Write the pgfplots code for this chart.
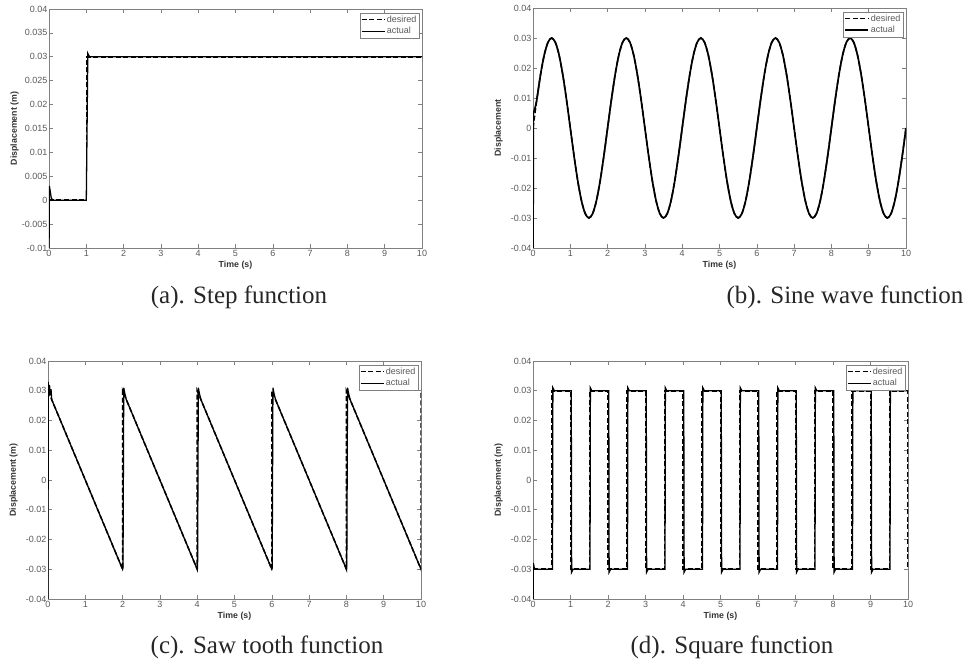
\documentclass[border=0pt]{standalone}
\usepackage{fontspec}
\setmainfont{Liberation Sans}
\newfontfamily\capfont{Liberation Serif}
\usepackage{pgfplots}
\pgfplotsset{compat=1.18}

\newcommand{\tfont}{\fontsize{9}{10}\selectfont}
\newcommand{\lfont}{\fontsize{8.8}{9}\selectfont\bfseries}

\pgfplotsset{
  mat/.style={
    scale only axis, width=373pt, height=239pt,
    xmin=0, xmax=10, ymin=-0.04, ymax=0.04,
    axis line style={black!50, line width=0.8pt},
    tick style={black!50, line width=0.6pt},
    tick align=inside, major tick length=4pt,
    xtick={0,1,2,3,4,5,6,7,8,9,10},
    xticklabels={0,1,2,3,4,5,6,7,8,9,10},
    ytick={-0.04,-0.03,-0.02,-0.01,0,0.01,0.02,0.03,0.04},
    yticklabels={-0.04,-0.03,-0.02,-0.01,0,0.01,0.02,0.03,0.04},
    ticklabel style={font=\tfont, text=black!65},
    xticklabel style={inner sep=2.5pt},
    yticklabel style={inner sep=1.5pt},
    scaled ticks=false,
    xlabel={Time (s)},
    xlabel style={font=\lfont, text=black!80, at={(axis description cs:0.5,-0.071)}, anchor=center},
    ylabel style={font=\lfont, text=black!80, at={(axis description cs:-0.092,0.5)}, anchor=center},
    legend style={at={(rel axis cs:1,1)}, anchor=north east, xshift=-3pt, yshift=-4pt,
      draw=black!50, font=\tfont, text=black!65, inner sep=1pt, row sep=0.5pt,
      nodes={inner sep=1.5pt}},
    legend cell align=left,
    legend image code/.code={\draw[#1] (0pt,0pt) -- (23pt,0pt);},
  },
  des/.style={black, line width=1.5pt, dash pattern=on 5pt off 2.5pt},
  act/.style={black, line width=1.3pt},
}

\begin{document}
\begin{tikzpicture}
\path[use as bounding box] (0,0) rectangle (978pt,-661pt);

% (a) step
\begin{axis}[mat, at={(49pt,-9pt)}, anchor=north west,
  ymin=-0.01, ymax=0.04,
  ytick={-0.01,-0.005,0,0.005,0.01,0.015,0.02,0.025,0.03,0.035,0.04},
  yticklabels={-0.01,-0.005,0,0.005,0.01,0.015,0.02,0.025,0.03,0.035,0.04},
  ylabel={Displacement (m)}]
\addplot[des] coordinates {(0,0) (1,0) (1,0.03) (10,0.03)};
\addplot[act] coordinates {(0,-0.012) (0.01,0.003) (0.03,0.002) (0.06,0.0005) (0.1,0) (1.0,0) (1.02,0.015) (1.04,0.0307) (1.07,0.0302) (1.1,0.03) (10,0.03)};
\legend{desired,actual}
\end{axis}

% (b) sine
\begin{axis}[mat, at={(533pt,-8pt)}, anchor=north west, height=240pt,
  ylabel={Displacement}]
\addplot[des, smooth] coordinates {
(0.0,0) (0.1,0.00927) (0.2,0.01763) (0.3,0.02427) (0.4,0.02853) (0.5,0.03) (0.6,0.02853) (0.7,0.02427) (0.8,0.01763) (0.9,0.00927)
(1.0,0) (1.1,-0.00927) (1.2,-0.01763) (1.3,-0.02427) (1.4,-0.02853) (1.5,-0.03) (1.6,-0.02853) (1.7,-0.02427) (1.8,-0.01763) (1.9,-0.00927)
(2.0,0) (2.1,0.00927) (2.2,0.01763) (2.3,0.02427) (2.4,0.02853) (2.5,0.03) (2.6,0.02853) (2.7,0.02427) (2.8,0.01763) (2.9,0.00927)
(3.0,0) (3.1,-0.00927) (3.2,-0.01763) (3.3,-0.02427) (3.4,-0.02853) (3.5,-0.03) (3.6,-0.02853) (3.7,-0.02427) (3.8,-0.01763) (3.9,-0.00927)
(4.0,0) (4.1,0.00927) (4.2,0.01763) (4.3,0.02427) (4.4,0.02853) (4.5,0.03) (4.6,0.02853) (4.7,0.02427) (4.8,0.01763) (4.9,0.00927)
(5.0,0) (5.1,-0.00927) (5.2,-0.01763) (5.3,-0.02427) (5.4,-0.02853) (5.5,-0.03) (5.6,-0.02853) (5.7,-0.02427) (5.8,-0.01763) (5.9,-0.00927)
(6.0,0) (6.1,0.00927) (6.2,0.01763) (6.3,0.02427) (6.4,0.02853) (6.5,0.03) (6.6,0.02853) (6.7,0.02427) (6.8,0.01763) (6.9,0.00927)
(7.0,0) (7.1,-0.00927) (7.2,-0.01763) (7.3,-0.02427) (7.4,-0.02853) (7.5,-0.03) (7.6,-0.02853) (7.7,-0.02427) (7.8,-0.01763) (7.9,-0.00927)
(8.0,0) (8.1,0.00927) (8.2,0.01763) (8.3,0.02427) (8.4,0.02853) (8.5,0.03) (8.6,0.02853) (8.7,0.02427) (8.8,0.01763) (8.9,0.00927)
(9.0,0) (9.1,-0.00927) (9.2,-0.01763) (9.3,-0.02427) (9.4,-0.02853) (9.5,-0.03) (9.6,-0.02853) (9.7,-0.02427) (9.8,-0.01763) (9.9,-0.00927)
(10.0,0)};
\addplot[act, line width=1.7pt, smooth] coordinates {
(0.04,0.006) (0.1,0.00927) (0.2,0.01763) (0.3,0.02427) (0.4,0.02853) (0.5,0.03) (0.6,0.02853) (0.7,0.02427) (0.8,0.01763) (0.9,0.00927)
(1.0,0) (1.1,-0.00927) (1.2,-0.01763) (1.3,-0.02427) (1.4,-0.02853) (1.5,-0.03) (1.6,-0.02853) (1.7,-0.02427) (1.8,-0.01763) (1.9,-0.00927)
(2.0,0) (2.1,0.00927) (2.2,0.01763) (2.3,0.02427) (2.4,0.02853) (2.5,0.03) (2.6,0.02853) (2.7,0.02427) (2.8,0.01763) (2.9,0.00927)
(3.0,0) (3.1,-0.00927) (3.2,-0.01763) (3.3,-0.02427) (3.4,-0.02853) (3.5,-0.03) (3.6,-0.02853) (3.7,-0.02427) (3.8,-0.01763) (3.9,-0.00927)
(4.0,0) (4.1,0.00927) (4.2,0.01763) (4.3,0.02427) (4.4,0.02853) (4.5,0.03) (4.6,0.02853) (4.7,0.02427) (4.8,0.01763) (4.9,0.00927)
(5.0,0) (5.1,-0.00927) (5.2,-0.01763) (5.3,-0.02427) (5.4,-0.02853) (5.5,-0.03) (5.6,-0.02853) (5.7,-0.02427) (5.8,-0.01763) (5.9,-0.00927)
(6.0,0) (6.1,0.00927) (6.2,0.01763) (6.3,0.02427) (6.4,0.02853) (6.5,0.03) (6.6,0.02853) (6.7,0.02427) (6.8,0.01763) (6.9,0.00927)
(7.0,0) (7.1,-0.00927) (7.2,-0.01763) (7.3,-0.02427) (7.4,-0.02853) (7.5,-0.03) (7.6,-0.02853) (7.7,-0.02427) (7.8,-0.01763) (7.9,-0.00927)
(8.0,0) (8.1,0.00927) (8.2,0.01763) (8.3,0.02427) (8.4,0.02853) (8.5,0.03) (8.6,0.02853) (8.7,0.02427) (8.8,0.01763) (8.9,0.00927)
(9.0,0) (9.1,-0.00927) (9.2,-0.01763) (9.3,-0.02427) (9.4,-0.02853) (9.5,-0.03) (9.6,-0.02853) (9.7,-0.02427) (9.8,-0.01763) (9.9,-0.00927)
(10.0,0)};
\addplot[act, line width=1.7pt, forget plot] coordinates {(0,-0.045) (0.01,0.005) (0.04,0.006)};
\legend{desired,actual}
\end{axis}

% (c) saw tooth
\begin{axis}[mat, at={(48pt,-361pt)}, anchor=north west, height=238pt,
  ylabel={Displacement (m)}]
\addplot[des] coordinates {(0,0.03) (2,-0.03) (2,0.03) (4,-0.03) (4,0.03) (6,-0.03) (6,0.03) (8,-0.03) (8,0.03) (10,-0.03) (10,0.03)};
\addplot[act] coordinates {(0,-0.045) (0.005,0.033) (0.02,0.028) (0.04,0.032) (0.06,0.0285) (0.08,0.0305) (0.1,0.027)
 (2,-0.03) (2.01,-0.0295) (2.03,0.031) (2.06,0.029) (2.1,0.027)
 (4,-0.03) (4.01,-0.0295) (4.03,0.031) (4.06,0.029) (4.1,0.027)
 (6,-0.03) (6.01,-0.0295) (6.03,0.031) (6.06,0.029) (6.1,0.027)
 (8,-0.03) (8.01,-0.0295) (8.03,0.031) (8.06,0.029) (8.1,0.027)
 (10,-0.03)};
\legend{desired,actual}
\end{axis}

% (d) square
\begin{axis}[mat, at={(533pt,-361pt)}, anchor=north west, width=375pt, height=238pt,
  ylabel={Displacement (m)}]
\addplot[des] coordinates {(0,-0.03) (0.5,-0.03) (0.5,0.03) (1,0.03) (1,-0.03) (1.5,-0.03) (1.5,0.03) (2,0.03) (2,-0.03)
 (2.5,-0.03) (2.5,0.03) (3,0.03) (3,-0.03) (3.5,-0.03) (3.5,0.03) (4,0.03) (4,-0.03)
 (4.5,-0.03) (4.5,0.03) (5,0.03) (5,-0.03) (5.5,-0.03) (5.5,0.03) (6,0.03) (6,-0.03)
 (6.5,-0.03) (6.5,0.03) (7,0.03) (7,-0.03) (7.5,-0.03) (7.5,0.03) (8,0.03) (8,-0.03)
 (8.5,-0.03) (8.5,0.03) (9,0.03) (9,-0.03) (9.5,-0.03) (9.5,0.03) (10,0.03) (10,-0.03)};
\addplot[act] coordinates {(0,-0.045) (0.01,-0.028) (0.04,-0.03)
 (0.52,-0.03) (0.53,0.031) (0.57,0.03) (1.02,0.03) (1.03,-0.031) (1.07,-0.03)
 (1.52,-0.03) (1.53,0.031) (1.57,0.03) (2.02,0.03) (2.03,-0.031) (2.07,-0.03)
 (2.52,-0.03) (2.53,0.031) (2.57,0.03) (3.02,0.03) (3.03,-0.031) (3.07,-0.03)
 (3.52,-0.03) (3.53,0.031) (3.57,0.03) (4.02,0.03) (4.03,-0.031) (4.07,-0.03)
 (4.52,-0.03) (4.53,0.031) (4.57,0.03) (5.02,0.03) (5.03,-0.031) (5.07,-0.03)
 (5.52,-0.03) (5.53,0.031) (5.57,0.03) (6.02,0.03) (6.03,-0.031) (6.07,-0.03)
 (6.52,-0.03) (6.53,0.031) (6.57,0.03) (7.02,0.03) (7.03,-0.031) (7.07,-0.03)
 (7.52,-0.03) (7.53,0.031) (7.57,0.03) (8.02,0.03) (8.03,-0.031) (8.07,-0.03)
 (8.52,-0.03) (8.53,0.031) (8.57,0.03) (9.02,0.03) (9.03,-0.031) (9.07,-0.03)
 (9.52,-0.03) (9.53,0.031) (9.57,0.03) (10,0.03)};
\legend{desired,actual}
\end{axis}

\node[font=\capfont\fontsize{25}{28}\selectfont, text=black!85, anchor=base] at (239pt,-303pt) {(a). Step function};
\node[font=\capfont\fontsize{25}{28}\selectfont, text=black!85, anchor=base] at (845pt,-303pt) {(b). Sine wave function};
\node[font=\capfont\fontsize{25}{28}\selectfont, text=black!85, anchor=base] at (267pt,-653pt) {(c). Saw tooth function};
\node[font=\capfont\fontsize{25}{28}\selectfont, text=black!85, anchor=base] at (732pt,-653pt) {(d). Square function};
\end{tikzpicture}
\end{document}
